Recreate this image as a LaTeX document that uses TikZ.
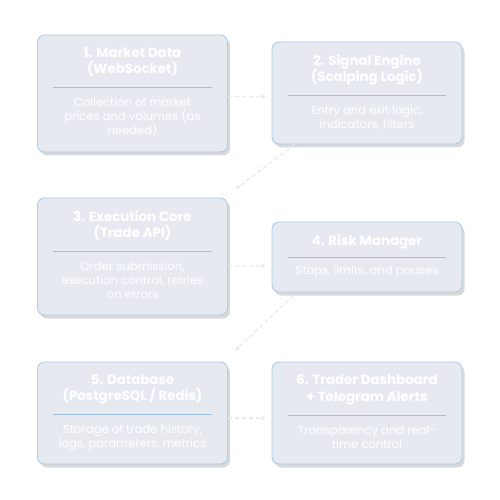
\documentclass[tikz,border=0pt]{standalone}
\usepackage{fontspec}
\setmainfont{Poppins}
\usetikzlibrary{shadows,arrows.meta,calc}
\definecolor{boxfill}{HTML}{E6EAF0}
\definecolor{boxline}{HTML}{A9CDEA}
\definecolor{rule}{HTML}{9CC3E5}
\definecolor{flow}{HTML}{E6EAEF}
\begin{document}
\begin{tikzpicture}[
card/.style={draw=boxline,line width=0.5pt,fill=boxfill,rounded corners=4pt,
  minimum width=3.8cm,inner sep=0pt,
  drop shadow={opacity=0.3,shadow xshift=0.05cm,shadow yshift=-0.07cm}},
head/.style={anchor=north,text=white,font=\bfseries\fontsize{7.6}{9.2}\selectfont,
  align=center,inner sep=0pt},
body/.style={anchor=north,text=white,font=\fontsize{6.6}{7.9}\selectfont,
  align=center,inner sep=0pt},
divider/.style={draw=rule,line width=0.6pt},
link/.style={draw=flow,line width=0.7pt,dashed,dash pattern=on 2.5pt off 1.5pt,
  -{Latex[length=3pt,width=3pt]},shorten >=0.1cm}
]
\useasboundingbox (0,0) rectangle (10,-10);
\node[card,minimum height=2.34cm] (b1) at (2.65,-1.87) {};
\node[card,minimum height=2.04cm] (b2) at (7.34,-1.86) {};
\node[card,minimum height=2.34cm] (b3) at (2.65,-5.13) {};
\node[card,minimum height=1.40cm] (b4) at (7.34,-5.14) {};
\node[card,minimum height=2.04cm] (b5) at (2.65,-8.26) {};
\node[card,minimum height=2.04cm] (b6) at (7.34,-8.26) {};
\node[head] (t1) at ($(b1.north)+(0,-0.26)$) {1. Market Data\\(WebSocket)};
\node[head] (t2) at ($(b2.north)+(0,-0.26)$) {2. Signal Engine\\(Scalping Logic)};
\node[head] (t3) at ($(b3.north)+(0,-0.26)$) {3. Execution Core\\(Trade API)};
\node[head] (t4) at ($(b4.north)+(0,-0.26)$) {4. Risk Manager};
\node[head] (t5) at ($(b5.north)+(0,-0.26)$) {5. Database\\(PostgreSQL / Redis)};
\node[head] (t6) at ($(b6.north)+(0,-0.26)$) {6. Trader Dashboard\\+ Telegram Alerts};
\foreach \n/\d in {1/1.06,2/1.08,3/1.08,4/0.72,5/1.06,6/1.08}{
  \draw[divider] ($(b\n.north west)+(0.32,-\d)$) -- ($(b\n.north east)+(-0.32,-\d)$);
}
\node[body] (d1) at ($(b1.north)+(0,-1.26)$) {Collection of market\\prices and volumes (as\\needed)};
\node[body] (d2) at ($(b2.north)+(0,-1.28)$) {Entry and exit logic,\\indicators, filters};
\node[body] (d3) at ($(b3.north)+(0,-1.28)$) {Order submission,\\execution control, retries\\on errors};
\node[body] (d4) at ($(b4.north)+(0,-0.88)$) {Stops, limits, and pauses};
\node[body] (d5) at ($(b5.north)+(0,-1.26)$) {Storage of trade history,\\logs, parameters, metrics};
\node[body] (d6) at ($(b6.north)+(0,-1.28)$) {Transparency and real-\\time control};
\draw[link] ($(b1.east)+(0,-0.06)$) -- ($(b2.west)+(0,-0.07)$);
\draw[link] ($(b2.south west)+(0.46,0)$) -- ($(b3.north east)+(0.06,0.1)$);
\draw[link] ($(b3.east)+(0,-0.19)$) -- ($(b4.west)+(0,-0.18)$);
\draw[link] ($(b4.south west)+(0.44,-0.06)$) -- ($(b5.north east)+(0.06,0.14)$);
\draw[link] ($(b5.east)+(0,-0.1)$) -- ($(b6.west)+(0,-0.1)$);
\end{tikzpicture}
\end{document}
